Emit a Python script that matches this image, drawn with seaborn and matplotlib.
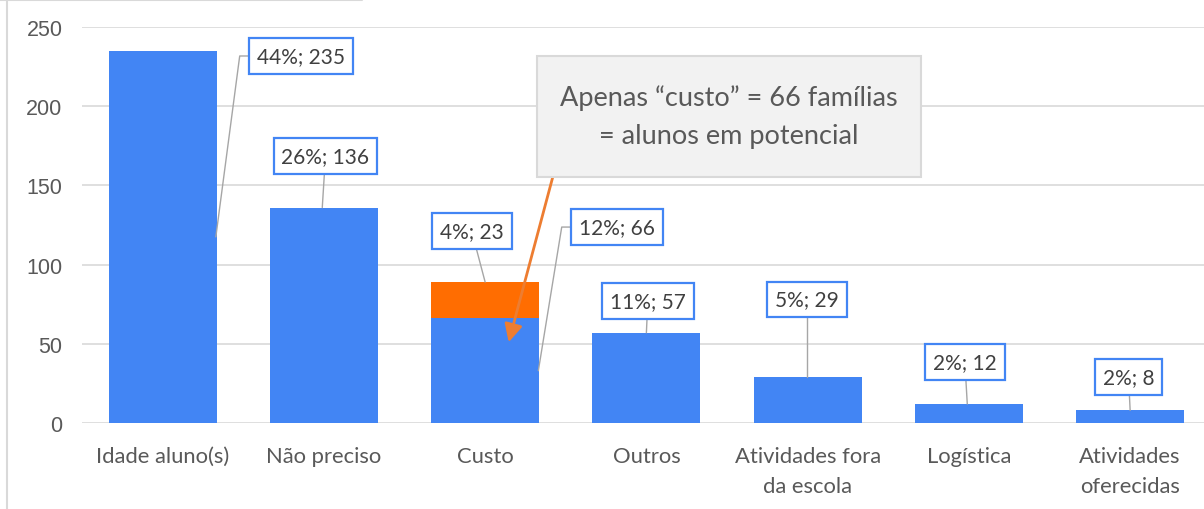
import matplotlib
matplotlib.use("Agg")
import matplotlib.pyplot as plt
from matplotlib.lines import Line2D
from matplotlib.patches import Rectangle
import seaborn as sns
import pandas as pd

# data
categories = ["Idade aluno(s)", "Não preciso", "Custo", "Outros",
              "Atividades fora\nda escola", "Logística", "Atividades\noferecidas"]
base_values = [235, 136, 66, 57, 29, 12, 8]
extra_values = [0, 0, 23, 0, 0, 0, 0]   # orange part stacked on "Custo"
label_texts = ["44%; 235", "26%; 136", "4%; 23", "12%; 66",
               "11%; 57", "5%; 29", "2%; 12", "2%; 8"]
y_ticks = [0, 50, 100, 150, 200, 250]
callout_text = "Apenas \u201ccusto\u201d = 66 famílias\n= alunos em potencial"

BLUE = "#4285F4"
ORANGE = "#FF6D01"
GRID = "#D9D9D9"
TXT = "#595959"

sns.set_theme(style="white")
plt.rcParams["font.family"] = ["Lato", "DejaVu Sans"]

fig = plt.figure(figsize=(12.04, 5.10), dpi=100)
ax = fig.add_axes([82 / 1204, 86 / 510, 1122 / 1204, 396 / 510])

df = pd.DataFrame({"cat": categories, "base": base_values,
                   "total": [b + e for b, e in zip(base_values, extra_values)]})
stacked = df[[e > 0 for e in extra_values]]

sns.barplot(data=stacked, x="cat", y="total", order=categories, color=ORANGE,
            saturation=1, width=0.67, linewidth=0, ax=ax, zorder=2)
sns.barplot(data=df, x="cat", y="base", order=categories, color=BLUE,
            saturation=1, width=0.67, linewidth=0, ax=ax, zorder=2)

ax.set_xlim(-0.5, 6.458)
ax.set_ylim(0, 250)
ax.set_yticks(y_ticks)
ax.set_xlabel("")
ax.set_ylabel("")
for s in ax.spines.values():
    s.set_visible(False)
ax.grid(axis="y", color=GRID, linewidth=1.2, zorder=0)
ax.set_axisbelow(True)
ax.tick_params(axis="y", length=0, pad=14, labelsize=15.5, labelcolor=TXT)
ax.tick_params(axis="x", length=0, pad=16.5, labelsize=15.8, labelcolor=TXT)
for t in ax.get_yticklabels():
    t.set_fontfamily("Liberation Sans")
for t in ax.get_xticklabels():
    t.set_linespacing(1.6)

# data label boxes: (label center, leader line points)
label_pos = [(0.856, 231.7), (1.01, 168.6), (1.917, 121), (2.816, 123.7),
             (3.009, 77), (3.995, 78), (4.975, 38.5), (5.99, 29)]
totals = list(df["total"])
leaders = [
    [(0.478, 231.7), (0.33, totals[0] / 2)],
    [(0.99, totals[1])],
    [(2.0, totals[2])],
    [(2.475, 123.7), (2.33, base_values[2] / 2)],
    [(3.0, totals[3])],
    [(3.995, totals[4])],
    [(4.99, totals[5])],
    [(6.0, totals[6])],
]
for txt, (lx, ly), pts in zip(label_texts, label_pos, leaders):
    xs = [lx] + [p[0] for p in pts]
    ys = [ly] + [p[1] for p in pts]
    ax.plot(xs, ys, color="#A6A6A6", linewidth=1, zorder=3, clip_on=False)
    ax.text(lx, ly, txt, ha="center", va="center", fontsize=15, color="#404040",
            zorder=5, bbox=dict(boxstyle="square,pad=0.38", fc="white",
                                ec=BLUE, lw=1.6))

# callout box with orange arrow
ax.annotate("", xy=(2.146, 51), xytext=(2.42, 155.5),
            arrowprops=dict(arrowstyle="-|>,head_length=0.9,head_width=0.45",
                            color="#ED7D31", lw=2, shrinkA=0, shrinkB=0),
            zorder=4)
ax.add_patch(Rectangle((2.32, 155.5), 2.38, 76.5, fc="#F2F2F2", ec="#D9D9D9",
                       lw=1.5, zorder=6, clip_on=False))
ax.text(3.511, 193.8, callout_text, ha="center", va="center", fontsize=19.5,
        color=TXT, linespacing=1.65, zorder=7)

# frame remnants of the original screenshot
fig.add_artist(Line2D([7 / 1204, 7 / 1204], [0, 1], color="#D9D9D9", lw=1.5))
fig.add_artist(Line2D([0, 362 / 1204], [0.998, 0.998], color="#D9D9D9", lw=1.5))

fig.savefig("out.png", dpi=100)
